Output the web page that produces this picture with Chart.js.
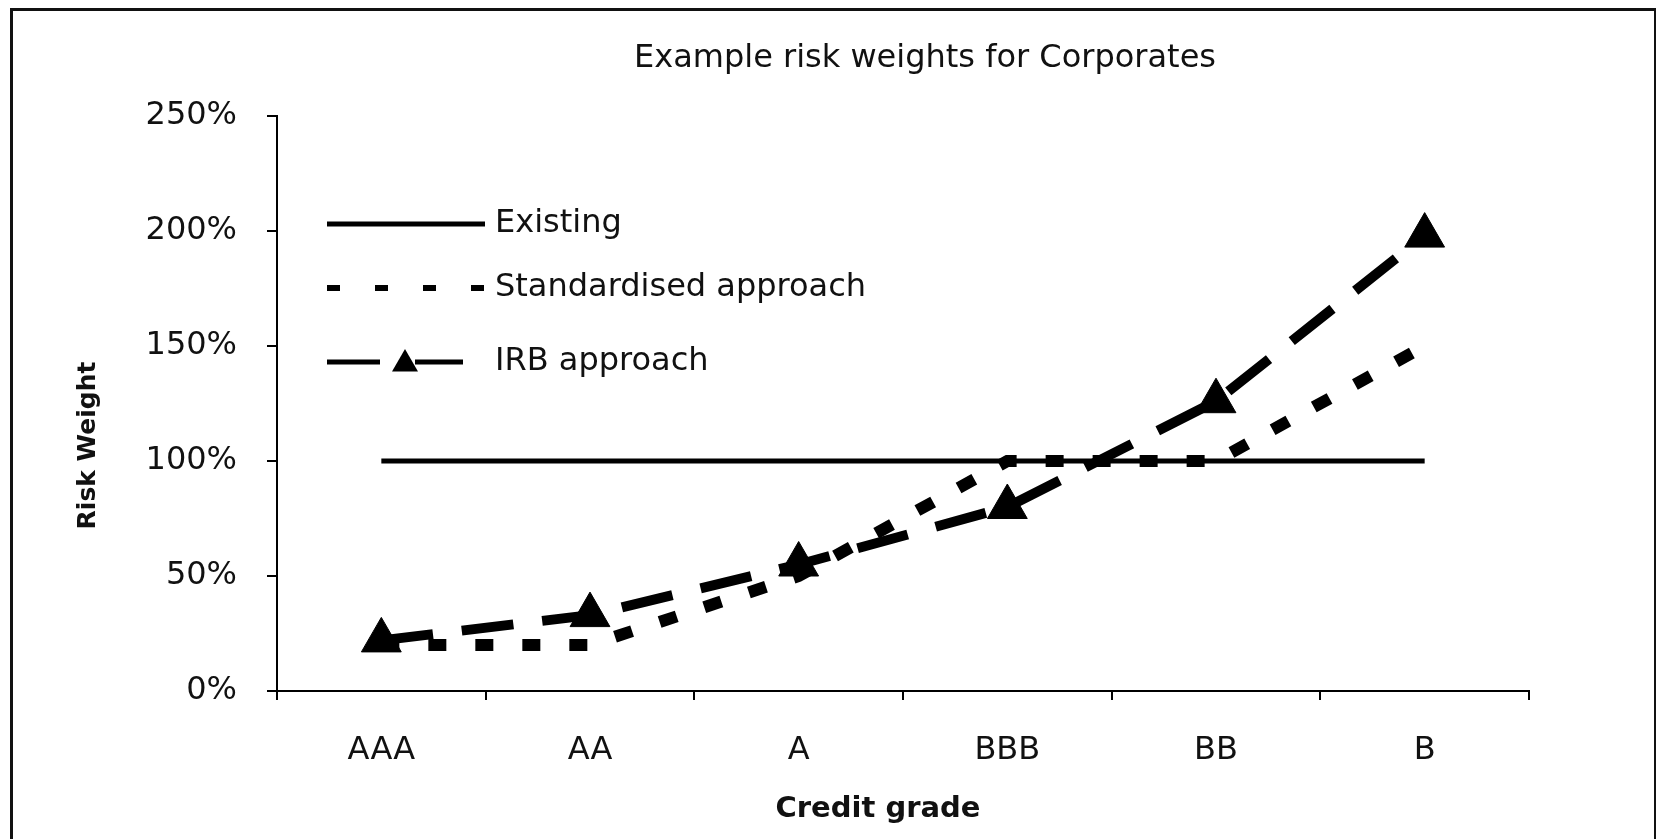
<!DOCTYPE html>
<html lang="en">
<head>
  <meta charset="UTF-8" />
  <title>Example risk weights for Corporates</title>
  <script src="https://cdn.jsdelivr.net/npm/chart.js"></script>
  <style>
    body {
      margin: 0;
      background: white;
      overflow: hidden;
    }
    .frame {
      position: absolute;
      left: 10px;
      top: 8px;
      width: 1641px;
      height: 900px;
      border: 3px solid #111;
      border-bottom: none;
    }
    .wrap {
      position: absolute;
      left: 0;
      top: 0;
      width: 1656px;
      height: 839px;
    }
  </style>
</head>
<body>
  <div class="frame"></div>
  <div class="wrap"><canvas id="riskChart"></canvas></div>

  <script>
    const title = 'Example risk weights for Corporates';
    const xTitle = 'Credit grade';
    const yTitle = 'Risk Weight';
    const grades = ['AAA', 'AA', 'A', 'BBB', 'BB', 'B'];
    const existing = [100, 100, 100, 100, 100, 100];
    const standardised = [20, 20, 50, 100, 100, 150];
    const irb = [22, 33, 55, 80, 126, 198];
    const yTicks = [0, 50, 100, 150, 200, 250];

    Chart.defaults.font.family = '"DejaVu Sans", sans-serif';
    Chart.defaults.color = '#111';

    // title, axis titles and the legend drawn inside the plot
    const extras = {
      id: 'extras',
      afterDatasetsDraw(chart) {
        const { ctx, chartArea: a } = chart;
        const mid = (a.left + a.right) / 2;
        ctx.save();
        ctx.fillStyle = '#111';
        ctx.textAlign = 'center';
        ctx.textBaseline = 'middle';
        ctx.font = '32px "DejaVu Sans"';
        ctx.fillText(title, mid + 22, a.top - 57);

        ctx.font = 'bold 29px "DejaVu Sans"';
        ctx.fillText(xTitle, mid - 25, a.bottom + 118);
        ctx.font = 'bold 25px "DejaVu Sans"';
        ctx.save();
        ctx.translate(a.left - 189, (a.top + a.bottom) / 2 + 42);
        ctx.rotate(-Math.PI / 2);
        ctx.fillText(yTitle, 0, 0);
        ctx.restore();

        // legend
        const x0 = a.left + 50, x1 = a.left + 208;
        const rows = [a.top + 108, a.top + 172, a.top + 246];
        const ds = chart.data.datasets;
        ctx.strokeStyle = '#000';
        ctx.lineCap = 'butt';

        ctx.lineWidth = 5;
        ctx.setLineDash([]);
        ctx.beginPath(); ctx.moveTo(x0, rows[0]); ctx.lineTo(x1, rows[0]); ctx.stroke();

        ctx.lineWidth = 6;
        ctx.setLineDash([13, 35]);
        ctx.beginPath(); ctx.moveTo(x0, rows[1]); ctx.lineTo(x1, rows[1]); ctx.stroke();

        ctx.lineWidth = 5;
        ctx.setLineDash([]);
        ctx.beginPath(); ctx.moveTo(x0, rows[2]); ctx.lineTo(x0 + 53, rows[2]); ctx.stroke();
        ctx.beginPath(); ctx.moveTo(x0 + 88, rows[2]); ctx.lineTo(x1 - 22, rows[2]); ctx.stroke();
        const tx = x0 + 78, ty = rows[2] + 2, r = 15;
        ctx.fillStyle = '#000';
        ctx.beginPath();
        ctx.moveTo(tx, ty - r);
        ctx.lineTo(tx + r * 0.866, ty + r / 2);
        ctx.lineTo(tx - r * 0.866, ty + r / 2);
        ctx.closePath();
        ctx.fill();

        ctx.fillStyle = '#111';
        ctx.textAlign = 'left';
        ctx.font = '32px "DejaVu Sans"';
        ds.forEach((d, i) => ctx.fillText(d.label, x1 + 10, rows[i]));
        ctx.restore();
      }
    };

    new Chart(document.getElementById('riskChart'), {
      type: 'line',
      data: {
        labels: grades,
        datasets: [
          {
            label: 'Existing',
            data: existing,
            borderColor: '#000',
            borderWidth: 5,
            pointRadius: 0,
            tension: 0
          },
          {
            label: 'Standardised approach',
            data: standardised,
            borderColor: '#000',
            borderWidth: 12,
            borderDash: [18, 29],
            pointRadius: 0,
            tension: 0
          },
          {
            label: 'IRB approach',
            data: irb,
            borderColor: '#000',
            borderWidth: 10,
            borderDash: [52, 29],
            pointStyle: 'triangle',
            pointRadius: 23,
            pointBorderWidth: 1,
            pointBackgroundColor: '#000',
            pointBorderColor: '#000',
            tension: 0
          }
        ]
      },
      options: {
        responsive: true,
        maintainAspectRatio: false,
        animation: false,
        layout: { padding: { left: 0, top: 116, right: 127, bottom: 0 } },
        plugins: {
          legend: { display: false },
          title: { display: false },
          tooltip: { enabled: false }
        },
        scales: {
          x: {
            offset: true,
            grid: {
              offset: true,
              drawOnChartArea: false,
              tickLength: 9,
              color: '#000',
              lineWidth: 2
            },
            border: { color: '#000', width: 2 },
            ticks: { padding: 31, maxRotation: 0, font: { size: 32 }, color: '#111' },
            afterFit: s => { s.height = 148; }
          },
          y: {
            min: 0,
            max: 250,
            afterBuildTicks: s => { s.ticks = yTicks.map(v => ({ value: v })); },
            grid: {
              drawOnChartArea: false,
              tickLength: 10,
              color: '#000',
              lineWidth: 2
            },
            border: { color: '#000', width: 2 },
            ticks: { padding: 30, font: { size: 32 }, color: '#111', callback: v => v + '%' },
            afterFit: s => { s.width = 277; }
          }
        }
      },
      plugins: [extras]
    });
  </script>
</body>
</html>
